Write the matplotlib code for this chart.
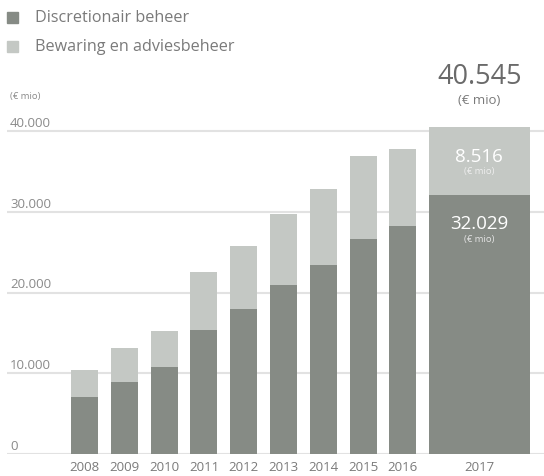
import matplotlib
matplotlib.use("Agg")
import matplotlib.pyplot as plt
from matplotlib.transforms import blended_transform_factory, offset_copy
from matplotlib.patches import Rectangle

plt.rcParams['font.family'] = ['Open Sans', 'DejaVu Sans']

years = ['2008', '2009', '2010', '2011', '2012', '2013', '2014', '2015', '2016', '2017']
discretionair = [7060, 8920, 10770, 15390, 17960, 20930, 23400, 26630, 28240, 32029]
bewaring = [3340, 4210, 4460, 7150, 7800, 8790, 9420, 10270, 9530, 8516]
yticks = [0, 10000, 20000, 30000, 40000]
ytick_labels = ['0', '10.000', '20.000', '30.000', '40.000']
legend_labels = ['Discretionair beheer', 'Bewaring en adviesbeheer']
total_2017_label = '40.545'
unit_label = '(€ mio)'

dark = '#868b85'
light = '#c4c8c4'
grid_c = '#e2e2e2'
txt_c = '#8a8a8a'

W, H = 544, 477
fig = plt.figure(figsize=(W / 100, H / 100), dpi=100)

# axes from px x=7..544, y=60..455
ax_left, ax_right = 7, 544
ax_top, ax_bot = 60, 455
ax = fig.add_axes([ax_left / W, (H - ax_bot) / H, (ax_right - ax_left) / W, (ax_bot - ax_top) / H])
px_per_unit = 39.8
x0_px = 84.5
xlim = ((ax_left - x0_px) / px_per_unit, (ax_right - x0_px) / px_per_unit)
px_per_val = 80.75 / 10000
ylim = (0, (ax_bot - ax_top) / px_per_val)
ax.set_xlim(*xlim)
ax.set_ylim(*ylim)
for s in ax.spines.values():
    s.set_visible(False)
ax.set_xticks([])
ax.set_yticks([])

positions = list(range(9)) + [9.92]
widths = [0.68] * 9 + [2.54]

for yv in yticks:
    ax.axhline(yv, color=grid_c, lw=1.5, zorder=0)

ax.bar(positions, discretionair, width=widths, color=dark, zorder=2)
ax.bar(positions, bewaring, width=widths, bottom=discretionair, color=light, zorder=2)

# y tick labels (left aligned above gridlines)
tr = blended_transform_factory(fig.transFigure, ax.transData)
for yv, lab in zip(yticks, ytick_labels):
    t = offset_copy(tr, fig=fig, x=0, y=5, units='dots')
    fig.text(10 / W, yv, lab, transform=t, ha='left', va='baseline',
             fontsize=9.5, color=txt_c)

# year labels
trx = blended_transform_factory(ax.transData, fig.transFigure)
for p, yr in zip(positions, years):
    fig.text(p, (H - 468) / H, yr, transform=trx, ha='center', va='center',
             fontsize=9.5, color='#7a7a7a')

# unit label above axis
fig.text(10 / W, (H - 97) / H, unit_label, ha='left', va='center', fontsize=6.8, color=txt_c)

# legend
for i, (lab, c) in enumerate(zip(legend_labels, [dark, light])):
    yc = 18 + i * 29
    fig.patches.append(Rectangle((7 / W, (H - yc - 5.5) / H), 11 / W, 11 / H,
                                 transform=fig.transFigure, color=c, figure=fig))
    fig.text(35 / W, (H - yc) / H, lab, ha='left', va='center', fontsize=11.6, color='#7a7a7a')

# 2017 annotations
p17 = positions[-1]
fig.text(p17, (H - 77) / H, total_2017_label, transform=trx, ha='center', va='center',
         fontsize=19.5, color='#6a6a6a')
fig.text(p17, (H - 100) / H, unit_label, transform=trx, ha='center', va='center',
         fontsize=9.5, color='#7a7a7a')
fig.text(p17, (H - 157) / H, '8.516', transform=trx, ha='center', va='center',
         fontsize=13.5, color='white')
fig.text(p17, (H - 172) / H, unit_label, transform=trx, ha='center', va='center',
         fontsize=6.8, color='#eeeeee')
fig.text(p17, (H - 224) / H, '32.029', transform=trx, ha='center', va='center',
         fontsize=13.5, color='white')
fig.text(p17, (H - 240) / H, unit_label, transform=trx, ha='center', va='center',
         fontsize=6.8, color='#e4e4e4')

fig.savefig('out.png', dpi=100)
